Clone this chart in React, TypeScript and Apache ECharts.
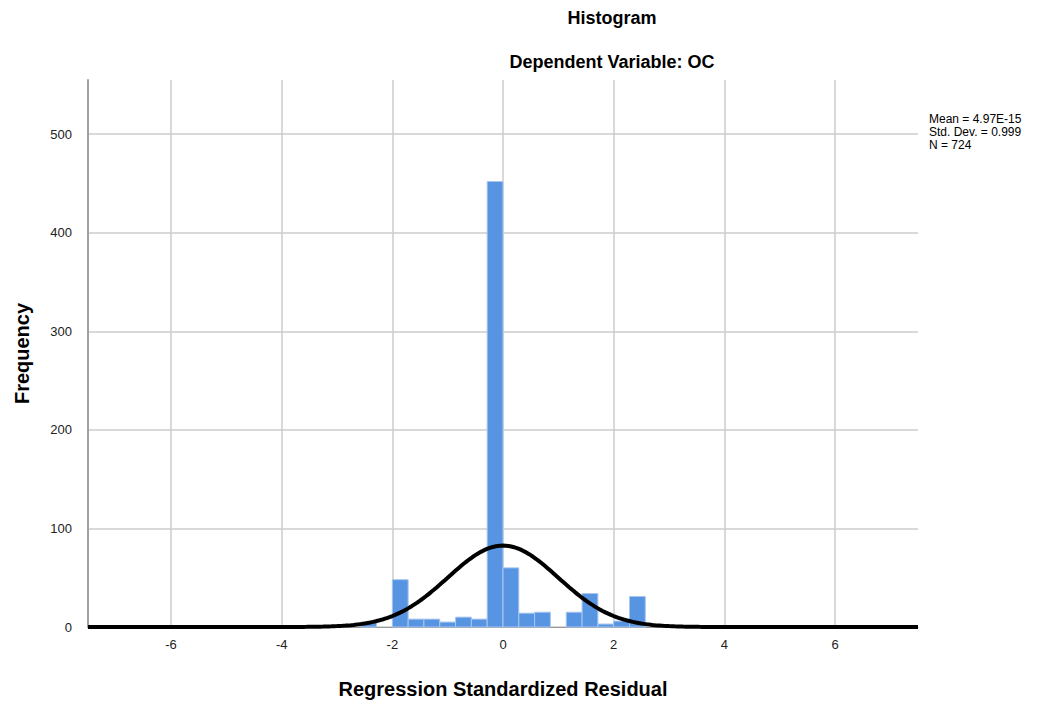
import React, { useEffect, useRef } from "react";
import * as echarts from "echarts";

const chartTitle = "Histogram";
const chartSubtitle = "Dependent Variable: OC";
const xAxisTitle = "Regression Standardized Residual";
const yAxisTitle = "Frequency";
const statsLines = ["Mean = 4.97E-15", "Std. Dev. = 0.999", "N = 724"];

const binWidth = 2 / 7;
const binLower = [
  -4.286, -2.571, -2.0, -1.714, -1.429, -1.143, -0.857, -0.571, -0.286,
  0.0, 0.286, 0.571, 1.143, 1.429, 1.714, 2.0, 2.286, 4.857,
];
const binCounts = [1, 5, 48, 8, 8, 5, 10, 8, 452, 60, 14, 15, 15, 34, 3, 6, 31, 1];

const xTicks = [-6, -4, -2, 0, 2, 4, 6];
const yTicks = [0, 100, 200, 300, 400, 500];

const mean = 4.97e-15;
const stdDev = 0.999;
const nObs = 724;

export default function App() {
  const ref = useRef<HTMLDivElement>(null);
  useEffect(() => {
    if (!ref.current) return;
    const chart = echarts.init(ref.current, null, { renderer: "svg" });

    const histData = binLower.map((lo, i) => [lo, lo + binWidth, binCounts[i]]);
    const curve: number[][] = [];
    for (let k = 0; k <= 300; k++) {
      const x = -7.5 + k * 0.05;
      const z = (x - mean) / stdDev;
      const y = (nObs * binWidth) / (stdDev * Math.sqrt(2 * Math.PI)) * Math.exp(-0.5 * z * z);
      curve.push([x, y]);
    }

    const font = "'Liberation Sans', Arial, sans-serif";

    chart.setOption({
      animation: false,
      backgroundColor: "#ffffff",
      textStyle: { fontFamily: font },
      grid: {
        left: 88,
        right: 136,
        top: 80,
        bottom: 75,
        containLabel: false,
        outerBoundsMode: "none",
      },
      title: [
        {
          text: chartTitle,
          left: 607,
          top: 4,
          textAlign: "center",
          textStyle: { fontSize: 18, fontWeight: "bold", color: "#000", fontFamily: font },
        },
        {
          text: chartSubtitle,
          left: 607,
          top: 48,
          textAlign: "center",
          textStyle: { fontSize: 18, fontWeight: "bold", color: "#000", fontFamily: font },
        },
      ],
      xAxis: {
        type: "value",
        min: -7.5,
        max: 7.5,
        name: xAxisTitle,
        nameLocation: "middle",
        nameGap: 52,
        nameTextStyle: { fontSize: 20, fontWeight: "bold", color: "#000", fontFamily: font },
        axisLine: { show: true, onZero: false, lineStyle: { color: "#999", width: 1 } },
        axisTick: { show: false, customValues: xTicks },
        axisLabel: { customValues: xTicks, fontSize: 13, color: "#222", margin: 11, fontFamily: font },
        splitLine: { show: true, lineStyle: { color: "#cccccc", width: 1.5 } },
      },
      yAxis: {
        type: "value",
        min: 0,
        max: 555,
        name: yAxisTitle,
        nameLocation: "middle",
        nameGap: 56,
        nameRotate: 90,
        nameTextStyle: { fontSize: 20, fontWeight: "bold", color: "#000", fontFamily: font },
        axisLine: { show: true, onZero: false, lineStyle: { color: "#a0a0a0", width: 2 } },
        axisTick: { show: false, customValues: yTicks },
        axisLabel: { customValues: yTicks, fontSize: 13, color: "#222", margin: 16, fontFamily: font },
        splitLine: { show: true, lineStyle: { color: "#cccccc", width: 1.5 } },
      },
      graphic: [
        {
          type: "text",
          left: 929,
          top: 112,
          style: {
            text: statsLines.join("\n"),
            fontSize: 12,
            lineHeight: 13,
            fill: "#000",
            fontFamily: font,
          },
        },
      ],
      series: [
        {
          type: "custom",
          data: histData,
          encode: { x: [0, 1], y: 2 },
          renderItem: (params: any, api: any) => {
            const p0 = api.coord([api.value(0), api.value(2)]);
            const p1 = api.coord([api.value(1), 0]);
            return {
              type: "rect",
              shape: { x: p0[0], y: p0[1], width: p1[0] - p0[0], height: p1[1] - p0[1] },
              style: { fill: "#5795e3", stroke: "#a9c6ef", lineWidth: 1 },
            };
          },
          z: 2,
        },
        {
          type: "line",
          data: curve,
          showSymbol: false,
          smooth: false,
          lineStyle: { color: "#000", width: 4 },
          z: 3,
        },
      ],
    });
    return () => chart.dispose();
  }, []);
  return (
    <div
      ref={ref}
      style={{ position: "fixed", left: 0, top: 0, width: 1054, height: 702 }}
    />
  );
}
